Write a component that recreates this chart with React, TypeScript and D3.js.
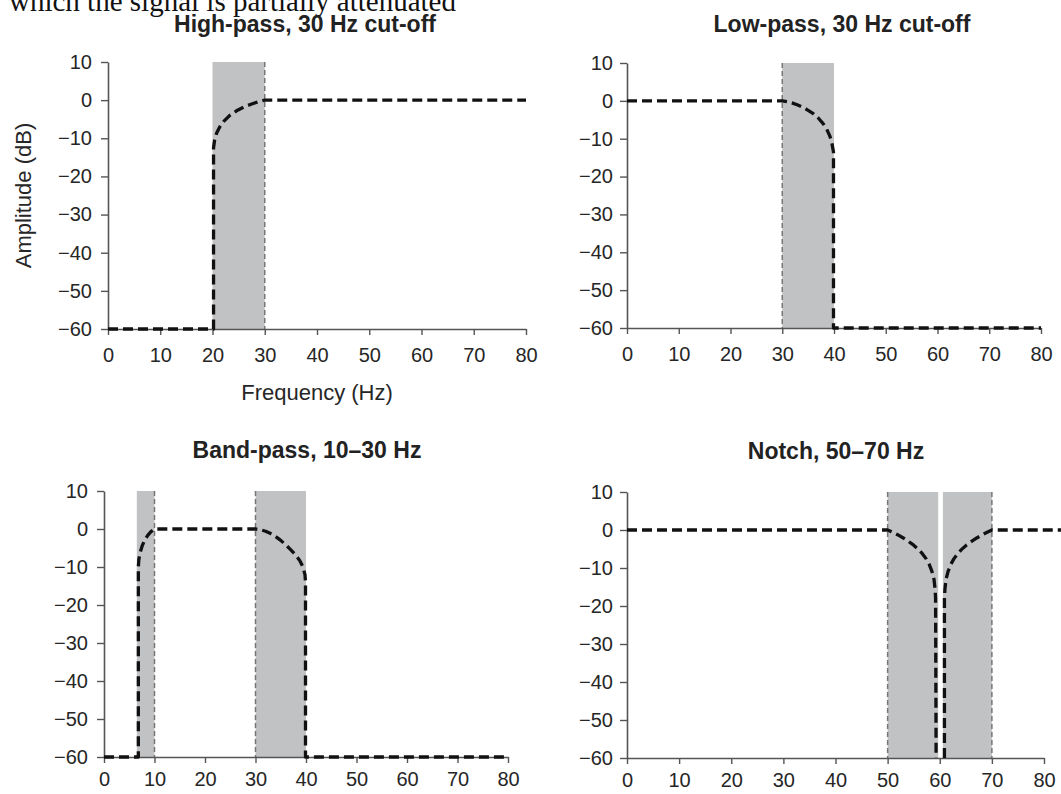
import { useEffect, useRef } from 'react'
import * as d3 from 'd3'

const W = 1061
const H = 794
const FONT = '"Liberation Sans", Arial, Helvetica, sans-serif'

const X_TICKS = [0, 10, 20, 30, 40, 50, 60, 70, 80]
const Y_TICKS = [10, 0, -10, -20, -30, -40, -50, -60]

// filter responses, [Hz, dB]
const HIGH_PASS = [
  [0, -60], [20.2, -60], [20.2, -12.5], [20.4, -10.5], [20.8, -8.6], [21.4, -7],
  [22.2, -5.5], [23.3, -4], [24.6, -2.8], [26, -1.8], [27.5, -1], [28.8, -0.4], [30, 0], [80, 0],
]
const LOW_PASS = [
  [0, 0], [30, 0], [31, -0.2], [32, -0.6], [33, -1.1], [34, -1.7], [35, -2.5], [36, -3.4],
  [37, -4.6], [37.9, -6], [38.6, -7.5], [39.2, -9.3], [39.6, -11.2], [39.9, -13.5],
  [39.9, -60], [80, -60],
]
const BAND_PASS = [
  [0, -60], [6.8, -60], [6.8, -10], [6.9, -8], [7.2, -6], [7.6, -4.3], [8.1, -2.8],
  [8.7, -1.6], [9.3, -0.7], [10, 0], [30, 0], [31, -0.2], [32, -0.6], [33, -1.2],
  [34, -2], [35, -3], [36, -4.2], [37, -5.5], [38, -6.9], [38.8, -8.4], [39.4, -10],
  [39.8, -12], [39.9, -14], [39.9, -60], [80, -60],
]
const NOTCH_LOW = [
  [0, 0], [50, 0], [51, -0.6], [52, -1.3], [53, -2.1], [54, -3], [55, -4], [55.9, -5.1],
  [56.7, -6.3], [57.4, -7.6], [58, -9.1], [58.5, -10.9], [58.9, -13], [59.1, -15.5],
  [59.2, -18], [59.3, -60],
]
const NOTCH_HIGH = [
  [60.9, -60], [60.9, -18], [61, -15.5], [61.2, -13], [61.6, -10.9], [62.1, -9.1],
  [62.7, -7.6], [63.4, -6.3], [64.2, -5.1], [65.1, -4], [66.1, -3], [67.1, -2.1],
  [68.1, -1.3], [69.1, -0.6], [70, 0], [84, 0],
]

// shaded transition bands [from, to] and the dashed cut-off markers
const HP_BANDS = [[20, 30]]
const HP_EDGES = [30]
const LP_BANDS = [[30, 40]]
const LP_EDGES = [30]
const BP_BANDS = [[6.5, 10], [30, 40]]
const BP_EDGES = [10, 30]
const NOTCH_BANDS = [[50, 59.7], [60.6, 70]]
const NOTCH_EDGES = [50, 70]

const TITLES = ['High-pass, 30 Hz cut-off', 'Low-pass, 30 Hz cut-off', 'Band-pass, 10–30 Hz', 'Notch, 50–70 Hz']

// pixel boxes of each panel's plotting area
const PANELS = [
  { title: TITLES[0], lines: [HIGH_PASS], bands: HP_BANDS, edges: HP_EDGES, x0: 108, x1: 526, yT: 62, yB: 329, tx: 305, ty: 32, pad: 13, yPad: 9, xLabel: true, yLabel: true },
  { title: TITLES[1], lines: [LOW_PASS], bands: LP_BANDS, edges: LP_EDGES, x0: 627, x1: 1041, yT: 63, yB: 328, tx: 842, ty: 32, pad: 13, yPad: 7 },
  { title: TITLES[2], lines: [BAND_PASS], bands: BP_BANDS, edges: BP_EDGES, x0: 104, x1: 508, yT: 491, yB: 757, tx: 307, ty: 458, pad: 9, yPad: 9 },
  { title: TITLES[3], lines: [NOTCH_LOW, NOTCH_HIGH], bands: NOTCH_BANDS, edges: NOTCH_EDGES, x0: 627, x1: 1044, yT: 492, yB: 758, tx: 836, ty: 459, pad: 9, yPad: 7 },
]

const fmt = (v: number) => (v < 0 ? `\u2212${-v}` : `${v}`)

export default function App() {
  const svgRef = useRef<SVGSVGElement | null>(null)

  useEffect(() => {
    if (!svgRef.current) return
    const svg = d3.select(svgRef.current)
    svg.selectAll('*').remove()

    svg.append('rect').attr('width', W).attr('height', H).attr('fill', '#fff')

    // clipped line of book text above the figure
    svg.append('text')
      .attr('x', 9).attr('y', 11)
      .attr('font-family', '"Liberation Serif", "Times New Roman", serif')
      .attr('font-size', 29).attr('fill', '#111')
      .text('which the signal is partially attenuated')

    PANELS.forEach(p => {
      const x = d3.scaleLinear().domain([0, 80]).range([p.x0, p.x1])
      const y = d3.scaleLinear().domain([-60, 10]).range([p.yB, p.yT])
      const g = svg.append('g')

      // transition bands
      g.selectAll('rect.band').data(p.bands).enter().append('rect')
        .attr('x', d => x(d[0])).attr('width', d => x(d[1]) - x(d[0]))
        .attr('y', y(10)).attr('height', y(-60) - y(10))
        .attr('fill', '#c1c2c4')

      g.selectAll('line.edge').data(p.edges).enter().append('line')
        .attr('x1', d => x(d)).attr('x2', d => x(d))
        .attr('y1', y(10)).attr('y2', y(-60))
        .attr('stroke', '#767676').attr('stroke-width', 1.5)
        .attr('stroke-dasharray', '5 3')

      // axes
      const yAxis = g.append('g').attr('transform', `translate(${p.x0},0)`)
        .call(d3.axisLeft(y).tickValues(Y_TICKS).tickSize(7).tickSizeOuter(0).tickPadding(p.yPad).tickFormat(d => fmt(+d)))
      const xAxis = g.append('g').attr('transform', `translate(0,${p.yB})`)
        .call(d3.axisBottom(x).tickValues(X_TICKS).tickSize(6).tickSizeOuter(0).tickPadding(p.pad).tickFormat(d => fmt(+d)))
      ;[yAxis, xAxis].forEach(ax => {
        ax.select('.domain').attr('stroke', '#555').attr('stroke-width', 1.6)
        ax.selectAll('.tick line').attr('stroke', '#555').attr('stroke-width', 1.4)
        ax.selectAll('.tick text').attr('fill', '#262626').attr('font-size', 20).attr('font-family', FONT)
      })

      // response curves
      const line = d3.line<number[]>().x(d => x(d[0])).y(d => y(d[1]))
      p.lines.forEach(series => {
        g.append('path')
          .attr('d', line(series))
          .attr('fill', 'none').attr('stroke', '#111').attr('stroke-width', 3.3)
          .attr('stroke-dasharray', '10 5').attr('stroke-linejoin', 'round')
      })

      g.append('text')
        .attr('x', p.tx).attr('y', p.ty).attr('text-anchor', 'middle')
        .attr('font-family', FONT).attr('font-weight', 'bold').attr('font-size', 23)
        .attr('fill', '#222').text(p.title)

      if (p.xLabel) {
        g.append('text')
          .attr('x', (p.x0 + p.x1) / 2).attr('y', 400).attr('text-anchor', 'middle')
          .attr('font-family', FONT).attr('font-size', 22).attr('fill', '#262626')
          .text('Frequency (Hz)')
      }
      if (p.yLabel) {
        g.append('text')
          .attr('transform', `translate(31,${(p.yT + p.yB) / 2}) rotate(-90)`)
          .attr('text-anchor', 'middle')
          .attr('font-family', FONT).attr('font-size', 22).attr('fill', '#262626')
          .text('Amplitude (dB)')
      }
    })
  }, [])

  return (
    <svg
      ref={svgRef}
      width={W}
      height={H}
      style={{ position: 'absolute', left: 0, top: 0, display: 'block' }}
    />
  )
}
